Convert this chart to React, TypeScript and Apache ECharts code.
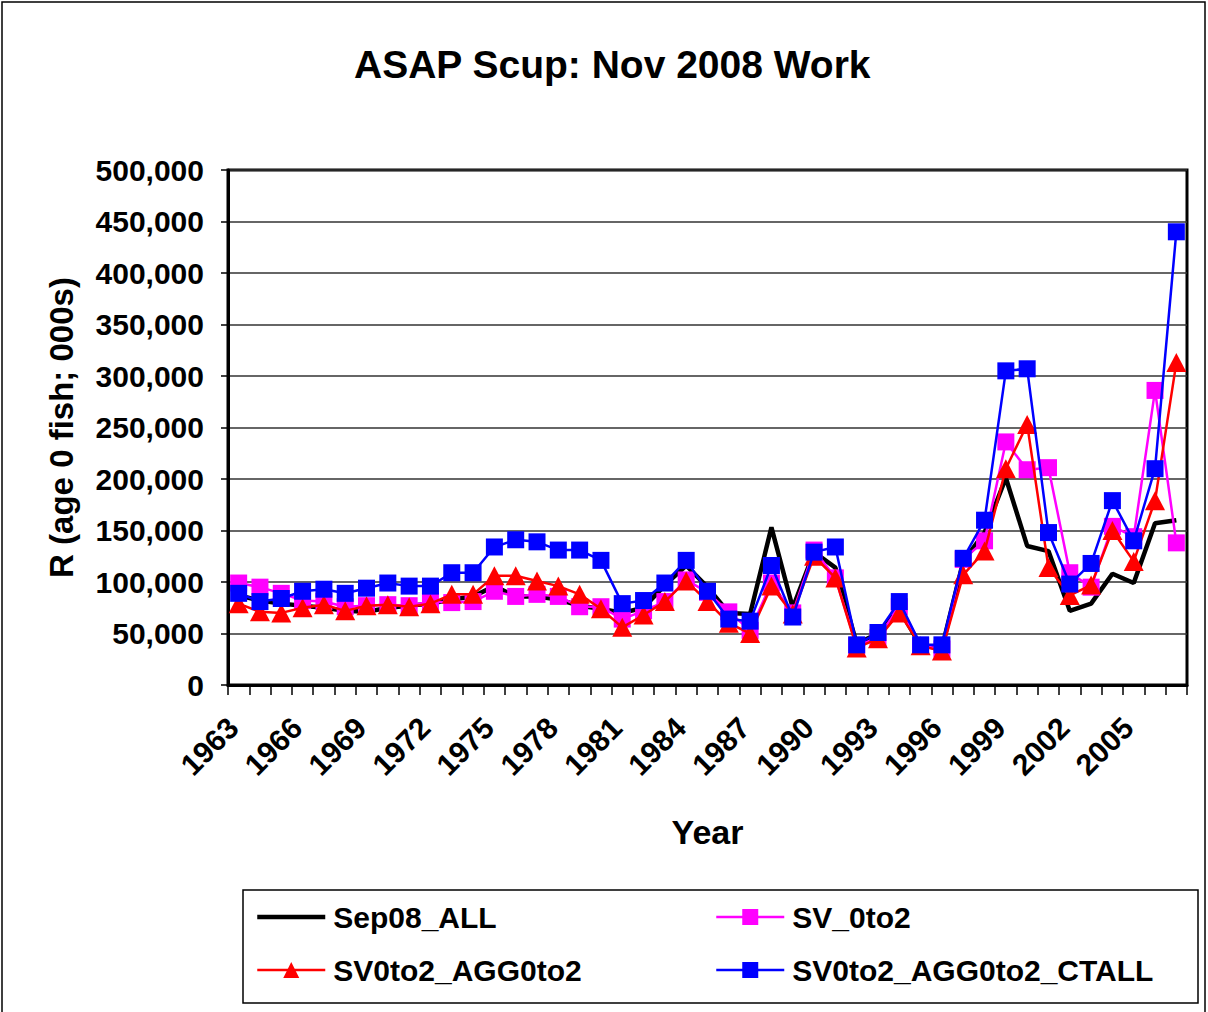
import { useEffect, useRef } from 'react';
import * as echarts from 'echarts';

const years = [
  '1963', '1964', '1965', '1966', '1967', '1968', '1969', '1970', '1971', '1972',
  '1973', '1974', '1975', '1976', '1977', '1978', '1979', '1980', '1981', '1982',
  '1983', '1984', '1985', '1986', '1987', '1988', '1989', '1990', '1991', '1992',
  '1993', '1994', '1995', '1996', '1997', '1998', '1999', '2000', '2001', '2002',
  '2003', '2004', '2005', '2006', '2007',
];

const sep08All = [
  87000, 82000, 79000, 77000, 75000, 72000, 71000, 75000, 77000, 79000,
  83000, 86000, 96000, 86000, 86000, 83000, 77000, 74000, 70000, 75000,
  97000, 116000, 95000, 70000, 69000, 153000, 75000, 129000, 114000, 40000,
  50000, 74000, 38000, 36000, 120000, 148000, 201000, 135000, 130000, 72000,
  79000, 108000, 99000, 157000, 160000,
];

const sv0to2 = [
  99000, 95000, 89000, 82000, 81000, 76000, 77000, 78000, 77000, 81000,
  80000, 81000, 91000, 86000, 88000, 86000, 76000, 76000, 64000, 72000,
  81000, 102000, 90000, 71000, 53000, 99000, 70000, 131000, 104000, 38000,
  46000, 76000, 38000, 35000, 122000, 140000, 236000, 209000, 211000, 109000,
  95000, 154000, 144000, 286000, 138000,
];

const sv0to2Agg0to2 = [
  79000, 71000, 70000, 75000, 78000, 72000, 77000, 78000, 76000, 79000,
  88000, 88000, 106000, 106000, 101000, 96000, 88000, 74000, 56000, 68000,
  81000, 101000, 81000, 60000, 50000, 96000, 69000, 125000, 104000, 36000,
  45000, 70000, 38000, 33000, 107000, 130000, 210000, 253000, 114000, 87000,
  97000, 150000, 120000, 179000, 313000,
];

const sv0to2Agg0to2Ctall = [
  89000, 81000, 84000, 91000, 93000, 89000, 94000, 99000, 96000, 96000,
  109000, 109000, 134000, 141000, 139000, 131000, 131000, 121000, 79000, 82000,
  99000, 121000, 91000, 64000, 62000, 116000, 66000, 129000, 134000, 39000,
  51000, 81000, 39000, 39000, 123000, 160000, 305000, 307000, 148000, 98000,
  118000, 179000, 140000, 210000, 440000,
];

const FONT = '"Liberation Sans", Arial, sans-serif';

export default function App() {
  const ref = useRef<HTMLDivElement>(null);

  useEffect(() => {
    document.body.style.margin = '0';
    const chart = echarts.init(ref.current!, undefined, { renderer: 'svg' });
    const legendText = {
      fontSize: 30,
      fontWeight: 'bold' as const,
      color: '#000',
      fontFamily: FONT,
      lineHeight: 30,
      padding: [0, 0, 0, 3],
    };
    const legendCommon = {
      orient: 'vertical' as const,
      top: 902,
      padding: 0,
      itemWidth: 68,
      itemHeight: 20,
      itemGap: 23,
      textStyle: legendText,
    };
    chart.setOption({
      animation: false,
      backgroundColor: '#fff',
      textStyle: { fontFamily: FONT },
      title: {
        text: 'ASAP Scup: Nov 2008 Work',
        left: 349,
        top: 40,
        textStyle: { fontSize: 39, fontWeight: 'bold', color: '#000', fontFamily: FONT },
      },
      graphic: [
        {
          type: 'rect',
          shape: { x: 2, y: 2, width: 1203, height: 1030 },
          style: { fill: 'none', stroke: '#000', lineWidth: 1.5 },
          silent: true,
        },
        {
          type: 'rect',
          shape: { x: 243, y: 890, width: 955, height: 113 },
          style: { fill: 'none', stroke: '#000', lineWidth: 1.5 },
          silent: true,
        },
      ],
      legend: [
        {
          ...legendCommon,
          left: 255,
          data: [
            {
              name: 'Sep08_ALL',
              itemStyle: { color: 'rgba(0,0,0,0)', borderWidth: 0 },
              lineStyle: { width: 4.5 },
            },
            { name: 'SV0to2_AGG0to2', lineStyle: { width: 2.5 } },
          ],
        },
        {
          ...legendCommon,
          left: 715,
          data: [
            { name: 'SV_0to2', lineStyle: { width: 2.5 } },
            { name: 'SV0to2_AGG0to2_CTALL', lineStyle: { width: 2.5 } },
          ],
        },
      ],
      grid: {
        left: 228,
        right: 21,
        top: 170,
        bottom: 327,
        show: true,
        borderColor: '#000',
        borderWidth: 3,
        backgroundColor: '#fff',
      },
      xAxis: {
        type: 'category',
        data: years,
        boundaryGap: true,
        name: 'Year',
        nameLocation: 'middle',
        nameGap: 130,
        nameTextStyle: { fontSize: 34, fontWeight: 'bold', color: '#000', fontFamily: FONT },
        axisLine: { lineStyle: { color: '#000', width: 3 } },
        axisTick: { show: true, interval: 0, length: 10, lineStyle: { color: '#000', width: 1.5 } },
        axisLabel: {
          interval: 2,
          rotate: 45,
          fontSize: 30,
          fontWeight: 'bold',
          color: '#000',
          fontFamily: FONT,
          margin: 32,
          padding: [0, 8, 0, 0],
        },
        splitLine: { show: false },
      },
      yAxis: {
        type: 'value',
        min: 0,
        max: 500000,
        interval: 50000,
        name: 'R (age 0 fish; 000s)',
        nameLocation: 'middle',
        nameGap: 150,
        nameTextStyle: { fontSize: 33, fontWeight: 'bold', color: '#000', fontFamily: FONT },
        axisLine: { show: true, lineStyle: { color: '#000', width: 3 } },
        axisTick: { show: true, length: 7, lineStyle: { color: '#000', width: 1.5 } },
        axisLabel: {
          fontSize: 30,
          fontWeight: 'bold',
          color: '#000',
          fontFamily: FONT,
          margin: 24,
          formatter: (v: number) => v.toLocaleString('en-US'),
        },
        splitLine: { show: true, lineStyle: { color: '#333', width: 1.5 } },
      },
      series: [
        {
          name: 'Sep08_ALL',
          type: 'line',
          data: sep08All,
          symbol: 'none',
          lineStyle: { color: '#000', width: 4.5 },
          itemStyle: { color: '#000' },
          z: 2,
        },
        {
          name: 'SV_0to2',
          type: 'line',
          data: sv0to2,
          symbol: 'rect',
          symbolSize: 17,
          showAllSymbol: true,
          lineStyle: { color: '#FF00FF', width: 2.5 },
          itemStyle: { color: '#FF00FF' },
          z: 3,
        },
        {
          name: 'SV0to2_AGG0to2',
          type: 'line',
          data: sv0to2Agg0to2,
          symbol: 'triangle',
          symbolSize: [20, 19],
          showAllSymbol: true,
          lineStyle: { color: '#FF0000', width: 2.5 },
          itemStyle: { color: '#FF0000' },
          z: 4,
        },
        {
          name: 'SV0to2_AGG0to2_CTALL',
          type: 'line',
          data: sv0to2Agg0to2Ctall,
          symbol: 'rect',
          symbolSize: 17,
          showAllSymbol: true,
          lineStyle: { color: '#0000FF', width: 2.5 },
          itemStyle: { color: '#0000FF' },
          z: 5,
        },
      ],
    });
    return () => chart.dispose();
  }, []);

  return <div ref={ref} style={{ width: 1208, height: 1012 }} />;
}
